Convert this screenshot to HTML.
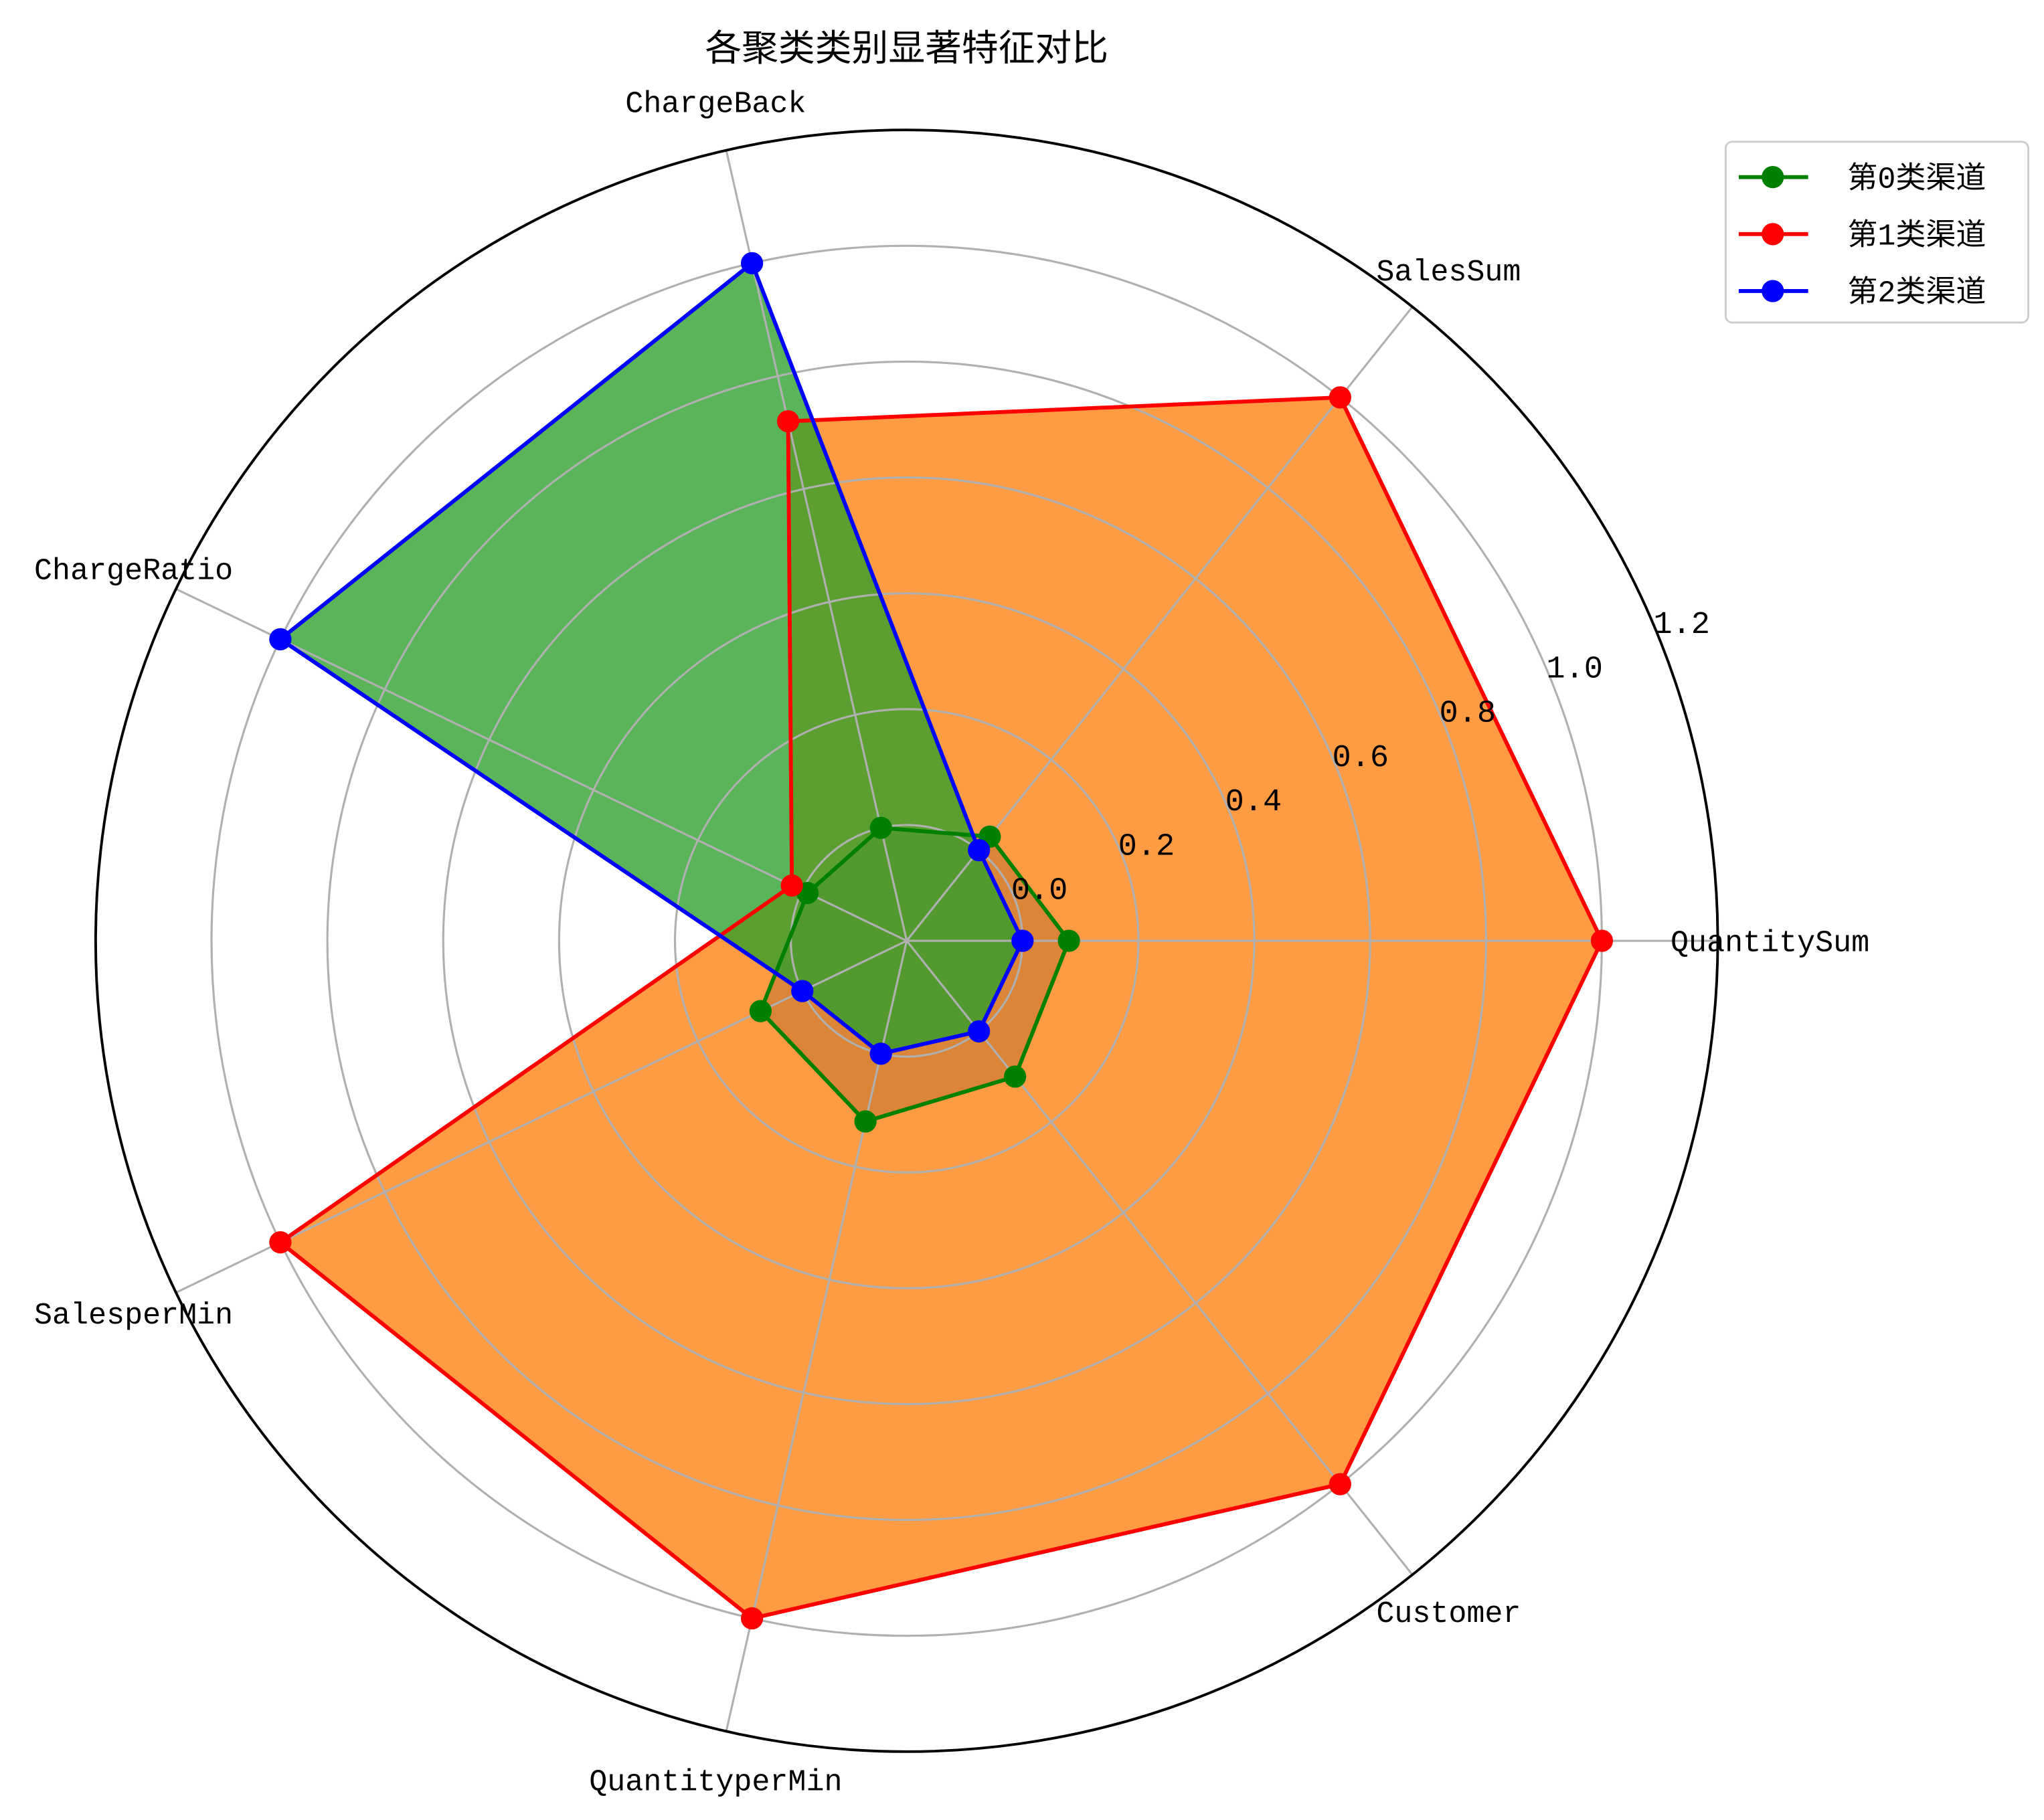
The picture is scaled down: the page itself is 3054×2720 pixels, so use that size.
<!DOCTYPE html>
<html><head><meta charset="utf-8">
<style>
html,body{margin:0;padding:0;background:#fff;}
svg{display:block;}
text{font-family:"Liberation Mono","Noto Sans CJK SC",monospace;}
</style></head>
<body>
<svg id="chart" width="3054" height="2720" viewBox="0 0 1560 1389" xmlns="http://www.w3.org/2000/svg">
<rect width="1560" height="1389" fill="#fff"/>
<g id="fills"></g><g id="grid"></g><g id="lines"></g><g id="labels"></g>
<text x="692" y="46" font-size="28" text-anchor="middle" fill="#000">各聚类类别显著特征对比</text>
<g id="legend"></g>
</svg>
<script>
const categories = ["QuantitySum","SalesSum","ChargeBack","ChargeRatio","SalesperMin","QuantityperMin","Customer"];
const seriesNames = ["第0类渠道","第1类渠道","第2类渠道"];
const series0 = [0.08,0.03,0.0,-0.01,0.08,0.12,0.10];
const series1 = [1.0,1.0,0.72,0.02,1.0,1.0,1.0];
const series2 = [0.0,0.0,1.0,1.0,0.0,0.0,0.0];
const tickValues = [0.0,0.2,0.4,0.6,0.8,1.0,1.2];
const tickLabels = ["0.0","0.2","0.4","0.6","0.8","1.0","1.2"];

const NS="http://www.w3.org/2000/svg";
const cx=692, cy=718, R=619, rMin=-0.2, rMax=1.2;
const lineColors=["#008000","#ff0000","#0000ff"];
const fillColors=["rgba(31,119,180,0.75)","rgba(255,127,14,0.78)","rgba(44,160,44,0.78)"];
const allSeries=[series0,series1,series2];
function rScale(v){return (v-rMin)/(rMax-rMin)*R;}
function ang(i){return i*2*Math.PI/categories.length;}
function pt(i,v){const r=rScale(v),a=ang(i);return [cx+r*Math.cos(a),cy-r*Math.sin(a)];}
function mk(tag,attrs,parent){const e=document.createElementNS(NS,tag);for(const k in attrs)e.setAttribute(k,attrs[k]);parent.appendChild(e);return e;}
const grid=document.getElementById('grid'),fills=document.getElementById('fills'),lines=document.getElementById('lines'),labels=document.getElementById('labels'),legend=document.getElementById('legend');

allSeries.forEach((s,k)=>{
  const p=s.map((v,i)=>pt(i,v).join(',')).join(' ');
  const f=mk('polygon',{points:p,fill:fillColors[k],stroke:'none'},fills);
  
  
});
tickValues.forEach((v,j)=>{
  if(j<tickValues.length-1){
    const c=mk('circle',{cx:cx,cy:cy,r:rScale(v),fill:'none',stroke:'#b0b0b0','stroke-width':1.6},grid);
    
    
  }
});
categories.forEach((c,i)=>{
  const [x,y]=pt(i,rMax);
  const l=mk('line',{x1:cx,y1:cy,x2:x,y2:y,stroke:'#b0b0b0','stroke-width':1.6},grid);
  
  
});
const sp=mk('circle',{cx:cx,cy:cy,r:R,fill:'none',stroke:'#000','stroke-width':2},grid);



allSeries.forEach((s,k)=>{
  const pts=s.map((v,i)=>pt(i,v));
  const p=pts.concat([pts[0]]).map(q=>q.join(',')).join(' ');
  const pl=mk('polyline',{points:p,fill:'none',stroke:lineColors[k],'stroke-width':3,'stroke-linejoin':'round'},lines);
  
  
  pts.forEach(q=>{
    const m=mk('circle',{cx:q[0],cy:q[1],r:8.5,fill:lineColors[k]},lines);
    
    
  });
});

const ta=22.5*Math.PI/180;
tickValues.forEach((v,j)=>{
  const r=rScale(v);
  const t=mk('text',{x:cx+r*Math.cos(ta)-2,y:cy-r*Math.sin(ta)+2,'font-size':24,'text-anchor':'start',fill:'#000'},labels);
  t.textContent=tickLabels[j];
  
  
});
const dxs=[-72,-50,0,76,76,0,-50];
const dys=[8,8,6,8,8,10,8];
categories.forEach((c,i)=>{
  const a=ang(i), r=R+36;
  const x=cx+r*Math.cos(a), y=cy-r*Math.sin(a);
  const cos=Math.cos(a);
  const anchor=Math.abs(cos)<0.3?'middle':(cos>0?'start':'end');
  const t=mk('text',{x:x+dxs[i],y:y+dys[i],'font-size':23,'text-anchor':anchor,fill:'#000'},labels);
  t.textContent=c;
  
  
});

const box=mk('rect',{x:1317,y:108,width:231,height:138,rx:5,fill:'#fff',stroke:'#ccc','stroke-width':1.5},legend);


seriesNames.forEach((n,k)=>{
  const y=135+k*43.5;
  const l=mk('line',{x1:1327,y1:y,x2:1380,y2:y,stroke:lineColors[k],'stroke-width':3},legend);
  
  
  const m=mk('circle',{cx:1353,cy:y,r:8.5,fill:lineColors[k]},legend);
  
  
  const t=mk('text',{x:1410,y:y+8,'font-size':23,fill:'#000'},legend);
  t.textContent=n;
  
  
});
</script>
</body></html>
